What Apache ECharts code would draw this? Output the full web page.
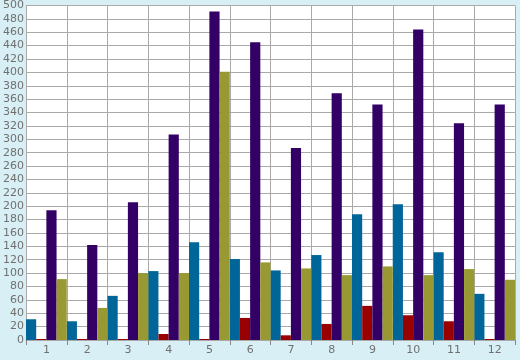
<!DOCTYPE html>
<html><head><meta charset="utf-8">
<script src="https://cdn.jsdelivr.net/npm/echarts@6/dist/echarts.min.js"></script>
<style>html,body{margin:0;padding:0;background:#d9eff6;}#c{width:520px;height:360px;}</style>
</head><body><div id="c"></div>
<script>
const categories = ['1','2','3','4','5','6','7','8','9','10','11','12'];
const blueValues   = [31, 28, 66, 103, 146, 121, 104, 127, 188, 203, 131, 69];
const redValues    = [1.5, 1.5, 1.5, 9, 1.5, 33, 7, 24, 51, 37, 28, 1.5];
const purpleValues = [194, 142, 206, 307, 491, 445, 287, 369, 352, 464, 324, 352];
const oliveValues  = [91, 48, 100, 100, 401, 116, 107, 97, 110, 97, 106, 90];
const yMin = 0, yMax = 500, yStep = 20;

const chart = echarts.init(document.getElementById('c'), null, {renderer:'canvas'});
const mk = (name, data, color) => ({name, type:'bar', data, itemStyle:{color}, barGap:'0%', barCategoryGap:'0%', animation:false});
chart.setOption({
  backgroundColor:'#d9eff6',
  animation:false,
  grid:{left:26, right:5, top:5, bottom:20, show:true, backgroundColor:'#ffffff', borderWidth:0},
  xAxis:{type:'category', data:categories,
    axisLine:{show:true, lineStyle:{color:'#a8a8a8', width:1}},
    axisTick:{show:true, length:5, lineStyle:{color:'#888', width:1}},
    splitLine:{show:true, lineStyle:{color:'#aaaaaa', width:1}},
    axisLabel:{color:'#707070', fontFamily:'DejaVu Sans', fontSize:11, margin:5}
  },
  yAxis:{type:'value', min:yMin, max:yMax, interval:yStep,
    axisLine:{show:false}, axisTick:{show:false},
    splitLine:{show:true, lineStyle:{color:'#aaaaaa', width:1}},
    axisLabel:{color:'#707070', fontFamily:'DejaVu Sans', fontSize:11, margin:2}
  },
  series:[
    mk('blue', blueValues, '#006699'),
    mk('red', redValues, '#990000'),
    mk('purple', purpleValues, '#330066'),
    mk('olive', oliveValues, '#999933')
  ]
});
</script></body></html>
